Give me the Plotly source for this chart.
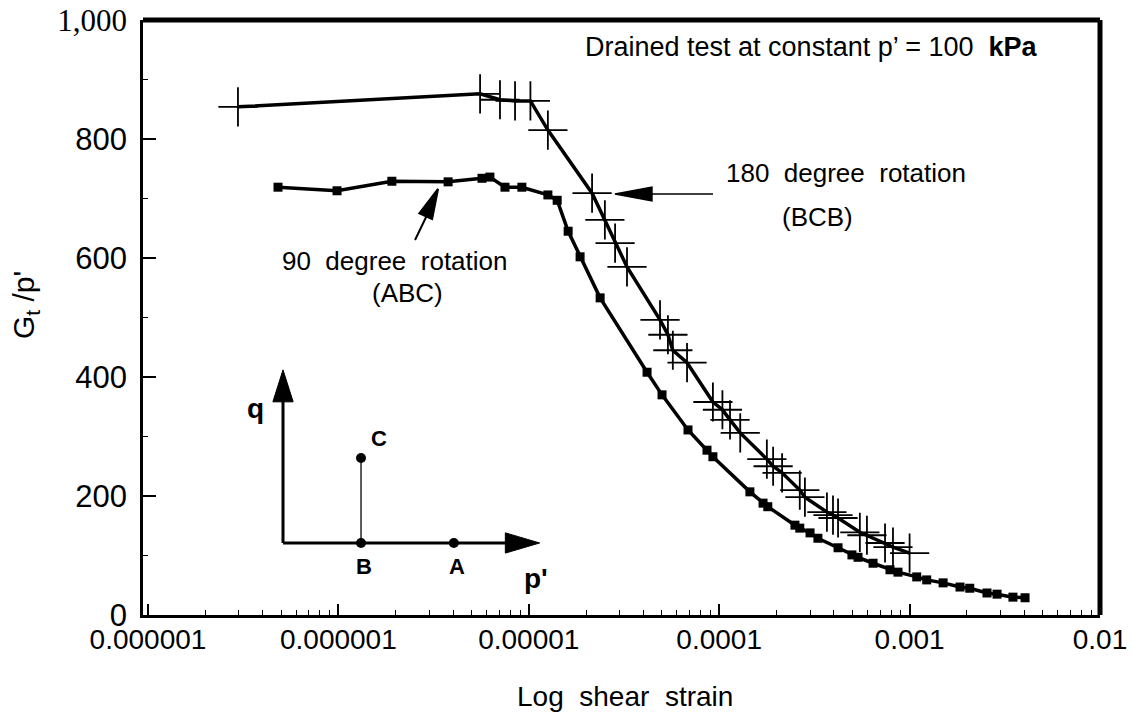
import plotly.graph_objects as go

# ---------------- data ----------------
# 180 degree rotation (BCB) - crosses
strain_bcb = [2.97e-7, 5.55e-6, 7.06e-6, 8.47e-6, 1.02e-5, 1.26e-5, 2.15e-5, 2.51e-5,
              2.84e-5, 3.28e-5, 4.89e-5, 5.38e-5, 5.71e-5, 6.78e-5, 9.27e-5, 1.04e-4,
              1.14e-4, 1.29e-4, 1.78e-4, 1.92e-4, 2.14e-4, 2.65e-4, 2.82e-4, 3.68e-4,
              3.96e-4, 4.21e-4, 5.48e-4, 5.97e-4, 7.43e-4, 8.18e-4, 1.00e-3]
gp_bcb = [854, 876, 866, 864, 864, 815, 709, 664,
          625, 585, 496, 471, 445, 424, 358, 345,
          328, 306, 262, 250, 239, 210, 198, 173,
          168, 163, 139, 134, 121, 114, 104]

# 90 degree rotation (ABC) - squares
strain_abc = [4.82e-7, 9.84e-7, 1.91e-6, 3.77e-6, 5.68e-6, 6.25e-6, 7.50e-6, 9.20e-6,
              1.26e-5, 1.41e-5, 1.61e-5, 1.86e-5, 2.37e-5, 4.18e-5, 5.01e-5, 6.86e-5,
              8.63e-5, 9.27e-5, 1.45e-4, 1.70e-4, 1.80e-4, 2.50e-4, 2.65e-4, 3.00e-4,
              3.30e-4, 4.21e-4, 4.98e-4, 5.36e-4, 6.43e-4, 7.89e-4, 8.69e-4, 1.09e-3,
              1.23e-3, 1.50e-3, 1.84e-3, 2.07e-3, 2.55e-3, 2.88e-3, 3.49e-3, 4.04e-3]
gp_abc = [719, 713, 729, 728, 734, 736, 719, 719,
          706, 697, 645, 602, 533, 408, 370, 311,
          277, 266, 207, 188, 182, 151, 146, 138,
          129, 113, 101, 97, 87, 76, 72, 64,
          59, 54, 47, 45, 37, 35, 30, 29]

x_tick_vals = [1e-7, 1e-6, 1e-5, 1e-4, 1e-3, 1e-2]
x_tick_text = ["0.000001", "0.000001", "0.00001", "0.0001", "0.001", "0.01"]
y_tick_vals = [0, 200, 400, 600, 800, 1000]
y_tick_text = ["0", "200", "400", "600", "800",
               "<span style='font-family:Liberation Serif, Times New Roman, serif'>1,000</span>"]
y_minor_vals = [100, 300, 500, 700, 900]
x_minor_vals = [m * 10.0 ** e for e in range(-7, -2) for m in range(2, 10)]

# inset stress-path schematic (schematic units)
q_axis_x, q_axis_y = [0, 0], [0, 1.85]
p_axis_x, p_axis_y = [0, 2.88], [0, 0]
q_head_x, q_head_y = [-0.13, 0.13, 0, -0.13], [1.81, 1.81, 2.22, 1.81]
p_head_x, p_head_y = [2.85, 2.85, 3.29, 2.85], [-0.13, 0.13, 0, -0.13]
path_bc_x, path_bc_y = [1.0, 1.0], [0, 1.09]
pt_names = ["A", "B", "C"]
pt_x = [2.19, 1.0, 1.0]
pt_y = [0, 0, 1.09]

FONT = "Liberation Sans, Arial, Helvetica, sans-serif"
X_RANGE = [-7.026, -2.0]

fig = go.Figure()

fig.add_trace(go.Scatter(
    x=strain_bcb, y=gp_bcb, mode="lines+markers",
    line=dict(color="black", width=3.5),
    marker=dict(symbol="cross-thin", size=28, color="black",
                line=dict(width=1.8, color="black")),
    showlegend=False, cliponaxis=False))

fig.add_trace(go.Scatter(
    x=strain_abc, y=gp_abc, mode="lines+markers",
    line=dict(color="black", width=3.5),
    marker=dict(symbol="square", size=9, color="black"),
    showlegend=False, cliponaxis=False))

# inset schematic traces
for xs, ys in [(q_axis_x, q_axis_y), (p_axis_x, p_axis_y)]:
    fig.add_trace(go.Scatter(x=xs, y=ys, mode="lines", xaxis="x2", yaxis="y2",
                             line=dict(color="black", width=3),
                             showlegend=False, hoverinfo="skip", cliponaxis=False))
for xs, ys in [(q_head_x, q_head_y), (p_head_x, p_head_y)]:
    fig.add_trace(go.Scatter(x=xs, y=ys, mode="lines", xaxis="x2", yaxis="y2",
                             fill="toself", fillcolor="black",
                             line=dict(color="black", width=1),
                             showlegend=False, hoverinfo="skip", cliponaxis=False))
fig.add_trace(go.Scatter(x=path_bc_x, y=path_bc_y, mode="lines", xaxis="x2", yaxis="y2",
                         line=dict(color="black", width=1.3),
                         showlegend=False, hoverinfo="skip", cliponaxis=False))
fig.add_trace(go.Scatter(x=pt_x, y=pt_y, mode="markers", xaxis="x2", yaxis="y2",
                         marker=dict(symbol="circle", size=10, color="black"),
                         showlegend=False, hoverinfo="skip", cliponaxis=False))


def note(text, x, y, size, ref=("paper", "paper"), angle=0):
    return dict(text=text, x=x, y=y, xref=ref[0], yref=ref[1], showarrow=False,
                xanchor="center", yanchor="middle", textangle=angle,
                font=dict(size=size, family=FONT, color="black"))


annotations = [
    note("Drained test at constant p\u2019 = 100  <b>kPa</b>", 0.699, 0.955, 27),
    note("180  degree  rotation", 0.7346, 0.7429, 26),
    note("(BCB)", 0.7053, 0.669, 26),
    note("90  degree  rotation", 0.2633, 0.595, 26),
    note("(ABC)", 0.2769, 0.541, 26),
    note("G<sub>t</sub> /p'", -0.1233, 0.521, 30, angle=-90),
    note("Log  shear  strain", 0.5037, -0.1378, 28),
    # inset labels
    note("<b>q</b>", -0.35, 1.73, 28, ref=("x2", "y2")),
    note("<b>C</b>", 1.23, 1.34, 22, ref=("x2", "y2")),
    note("<b>B</b>", 1.04, -0.3, 22, ref=("x2", "y2")),
    note("<b>A</b>", 2.23, -0.3, 22, ref=("x2", "y2")),
    note("<b>p'</b>", 3.24, -0.45, 28, ref=("x2", "y2")),
]

shapes = [
    # heavy top and right frame
    dict(type="line", xref="paper", yref="paper", x0=0, x1=1, y0=1, y1=1,
         line=dict(color="black", width=5)),
    dict(type="line", xref="paper", yref="paper", x0=1, x1=1, y0=0, y1=1,
         line=dict(color="black", width=5)),
    # arrow pointing at the 180 degree curve
    dict(type="path", xref="paper", yref="paper", xsizemode="pixel", ysizemode="pixel",
         xanchor=0.4932, yanchor=0.7076,
         path="M0,0 L37,7 L37,-7 Z M30,0 L98,0",
         fillcolor="black", line=dict(color="black", width=1.4)),
    # arrow pointing at the 90 degree curve
    dict(type="path", xref="paper", yref="paper", xsizemode="pixel", ysizemode="pixel",
         xanchor=0.3083, yanchor=0.7160,
         path="M0,0 L-5.9,-30.2 L-18.7,-24.4 Z M-10,-24 L-23,-51",
         fillcolor="black", line=dict(color="black", width=2)),
]

# the page body adds an 8 px offset; the figure size and margins allow for it
fig.update_layout(
    width=1127, height=708,
    margin=dict(l=135, r=35, t=12, b=101),
    paper_bgcolor="white", plot_bgcolor="white",
    font=dict(family=FONT, color="black"),
    annotations=annotations, shapes=shapes,
    xaxis=dict(type="log", range=X_RANGE, tickmode="array", tickvals=x_tick_vals,
               ticktext=x_tick_text, ticks="inside", ticklen=11, tickwidth=1.5,
               tickcolor="black", showline=True, linewidth=3, linecolor="black",
               showgrid=False, zeroline=False, tickfont=dict(size=28, family=FONT),
               ticklabelstandoff=-3, ticklabeloverflow="allow", automargin=False,
               minor=dict(tickmode="array", tickvals=x_minor_vals, ticks="inside",
                          ticklen=5, tickwidth=1.2, tickcolor="black", showgrid=False)),
    yaxis=dict(range=[0, 1000], tickmode="array", tickvals=y_tick_vals,
               ticktext=y_tick_text, ticks="inside", ticklen=13, tickwidth=1.5,
               tickcolor="black", showline=True, linewidth=2.5, linecolor="black",
               showgrid=False, zeroline=False, tickfont=dict(size=31, family=FONT),
               ticklabelstandoff=7, ticklabeloverflow="allow", automargin=False,
               minor=dict(tickmode="array", tickvals=y_minor_vals, ticks="inside",
                          ticklen=5, tickwidth=1.2, tickcolor="black", showgrid=False)),
    xaxis2=dict(domain=[0.0974, 0.4316], range=[-0.6, 3.5], anchor="y2", visible=False,
                fixedrange=True, automargin=False),
    yaxis2=dict(domain=[0.0424, 0.4487], range=[-0.6, 2.5], anchor="x2", visible=False,
                fixedrange=True, automargin=False),
)

fig.write_html("out.html")
